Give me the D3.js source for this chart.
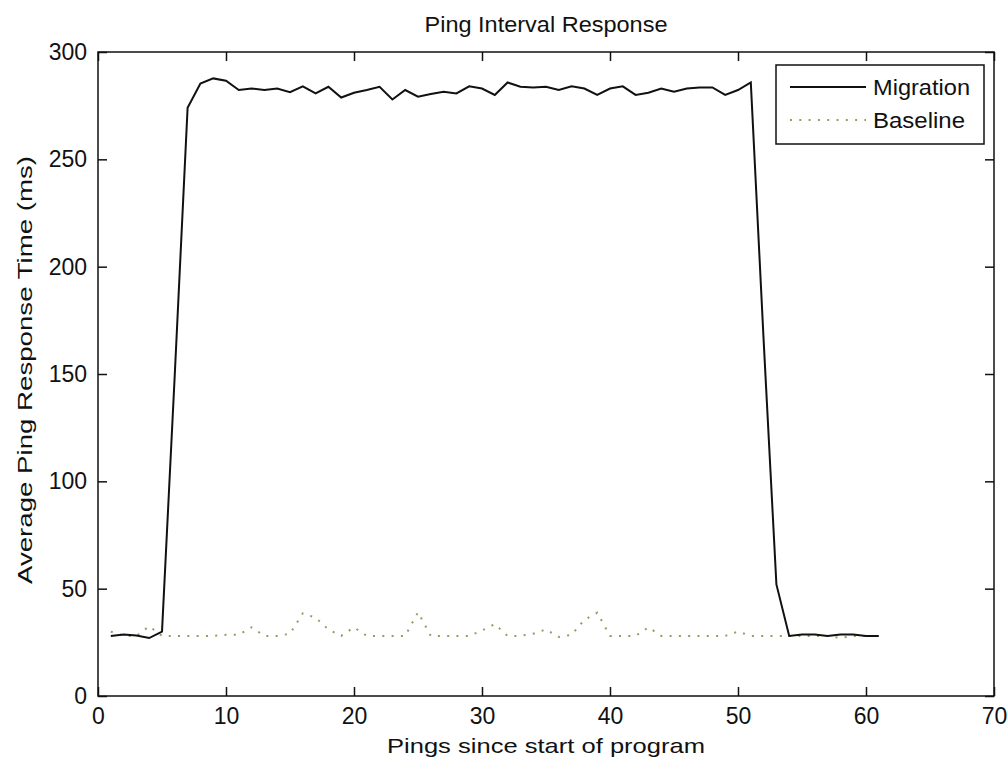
<!DOCTYPE html>
<html>
<head>
<meta charset="utf-8">
<script src="https://cdn.jsdelivr.net/npm/d3@7"></script>
<style>
  body { margin: 0; background: #fff; }
  text { font-family: "Liberation Sans", Arial, sans-serif; fill: #111; }
</style>
</head>
<body>
<svg id="chart"></svg>
<script>
// pings 1..61
var pings = d3.range(1, 62);

var migration = [28, 28.7, 28.2, 27, 30, 150, 274, 285.3, 287.7, 286.6,
  282.3, 283, 282.3, 283, 281.3, 284, 280.7, 283.8, 278.8, 281,
  282.3, 283.8, 277.9, 282.3, 279.2, 280.4, 281.5, 280.7, 284, 283,
  280, 285.8, 283.8, 283.5, 283.8, 282.3, 284, 283, 280, 283,
  284, 280, 281, 283, 281.5, 283, 283.5, 283.5, 280, 282.3,
  285.8, 166, 52, 28, 28.7, 28.7, 28, 28.7, 28.7, 28, 28];

var baseline = [30, 28, 28, 32.5, 28, 28, 28, 28, 28, 28.5,
  28.5, 32, 28, 28, 29, 38.5, 36.5, 31, 28, 32,
  28, 28, 28, 28, 39, 28, 28, 28, 28, 30.5,
  33.5, 28, 28, 29, 31, 27.5, 28.5, 35.5, 38.8, 28,
  28, 28, 32, 28, 28, 28, 28, 28, 28, 30,
  28, 28, 28, 28, 28, 28, 28, 27, 28, 28, 28];

var xTicks = [0, 10, 20, 30, 40, 50, 60, 70];
var yTicks = [0, 50, 100, 150, 200, 250, 300];
var seriesNames = ["Migration", "Baseline"];

var width = 1007,
    height = 761,
    box = { left: 98, right: 994, top: 52, bottom: 696 };

var svg = d3.select("#chart")
    .attr("width", width)
    .attr("height", height);

var x = d3.scaleLinear().domain([0, 70]).range([box.left, box.right]);
var y = d3.scaleLinear().domain([0, 300]).range([box.bottom, box.top]);
var tick = 9;
var dotColor = "#9a9a5e";

// series lines
var line = function(vals) {
  return d3.line()
    .x(function(d, i) { return x(pings[i]); })
    .y(function(d) { return y(d); })(vals);
};

svg.append("path")
    .attr("d", line(baseline))
    .attr("fill", "none")
    .attr("stroke", dotColor)
    .attr("stroke-width", 2)
    .attr("stroke-dasharray", "2,7.3");

svg.append("path")
    .attr("d", line(migration))
    .attr("fill", "none")
    .attr("stroke", "#111")
    .attr("stroke-width", 2);

// axes, ticks inward on all four sides
var axes = svg.append("g").attr("class", "axes");

axes.append("g")
    .attr("transform", "translate(0," + box.bottom + ")")
    .call(d3.axisBottom(x).tickValues(xTicks).tickSizeInner(-tick).tickSizeOuter(0).tickPadding(12))
    .call(function(g) { g.select(".domain").remove(); });

axes.append("g")
    .attr("transform", "translate(0," + box.top + ")")
    .call(d3.axisTop(x).tickValues(xTicks).tickSizeInner(-tick).tickSizeOuter(0).tickFormat(""))
    .call(function(g) { g.select(".domain").remove(); });

axes.append("g")
    .attr("transform", "translate(" + box.left + ",0)")
    .call(d3.axisLeft(y).tickValues(yTicks).tickSizeInner(-tick).tickSizeOuter(0).tickPadding(11))
    .call(function(g) { g.select(".domain").remove(); });

axes.append("g")
    .attr("transform", "translate(" + box.right + ",0)")
    .call(d3.axisRight(y).tickValues(yTicks).tickSizeInner(-tick).tickSizeOuter(0).tickFormat(""))
    .call(function(g) { g.select(".domain").remove(); });

axes.selectAll(".tick line").attr("stroke", "#111").attr("stroke-width", 1.5);
axes.selectAll(".tick text")
    .attr("font-size", 23)
    .attr("font-family", "Liberation Sans, Arial, sans-serif")
    .attr("fill", "#222");

svg.append("rect")
    .attr("x", box.left).attr("y", box.top)
    .attr("width", box.right - box.left).attr("height", box.bottom - box.top)
    .attr("fill", "none")
    .attr("stroke", "#111")
    .attr("stroke-width", 1.5);

// title and axis labels (MATLAB's screen font runs wide, so stretch to its widths)
svg.append("text")
    .attr("x", (box.left + box.right) / 2).attr("y", 32)
    .attr("text-anchor", "middle")
    .attr("font-size", 22)
    .attr("textLength", 243)
    .attr("lengthAdjust", "spacingAndGlyphs")
    .text("Ping Interval Response");

svg.append("text")
    .attr("x", (box.left + box.right) / 2).attr("y", 753)
    .attr("text-anchor", "middle")
    .attr("font-size", 21)
    .attr("textLength", 318)
    .attr("lengthAdjust", "spacingAndGlyphs")
    .text("Pings since start of program");

svg.append("text")
    .attr("transform", "translate(32," + ((box.top + box.bottom) / 2 - 4) + ") rotate(-90)")
    .attr("text-anchor", "middle")
    .attr("font-size", 21)
    .attr("textLength", 428)
    .attr("lengthAdjust", "spacingAndGlyphs")
    .text("Average Ping Response Time (ms)");

// legend
var legend = svg.append("g");
legend.append("rect")
    .attr("x", 776).attr("y", 65)
    .attr("width", 208).attr("height", 79)
    .attr("fill", "#fff")
    .attr("stroke", "#111")
    .attr("stroke-width", 1.5);

var legY = [87, 120];
var legW = [97, 92];
legend.append("line")
    .attr("x1", 790).attr("x2", 866)
    .attr("y1", legY[0]).attr("y2", legY[0])
    .attr("stroke", "#111").attr("stroke-width", 2);
legend.append("line")
    .attr("x1", 790).attr("x2", 866)
    .attr("y1", legY[1]).attr("y2", legY[1])
    .attr("stroke", dotColor).attr("stroke-width", 2)
    .attr("stroke-dasharray", "2,7.3");

legend.selectAll("text.leg")
    .data(seriesNames)
  .enter().append("text")
    .attr("class", "leg")
    .attr("x", 873)
    .attr("y", function(d, i) { return legY[i] + 8; })
    .attr("font-size", 22)
    .attr("textLength", function(d, i) { return legW[i]; })
    .attr("lengthAdjust", "spacingAndGlyphs")
    .text(function(d) { return d; });
</script>
</body>
</html>
